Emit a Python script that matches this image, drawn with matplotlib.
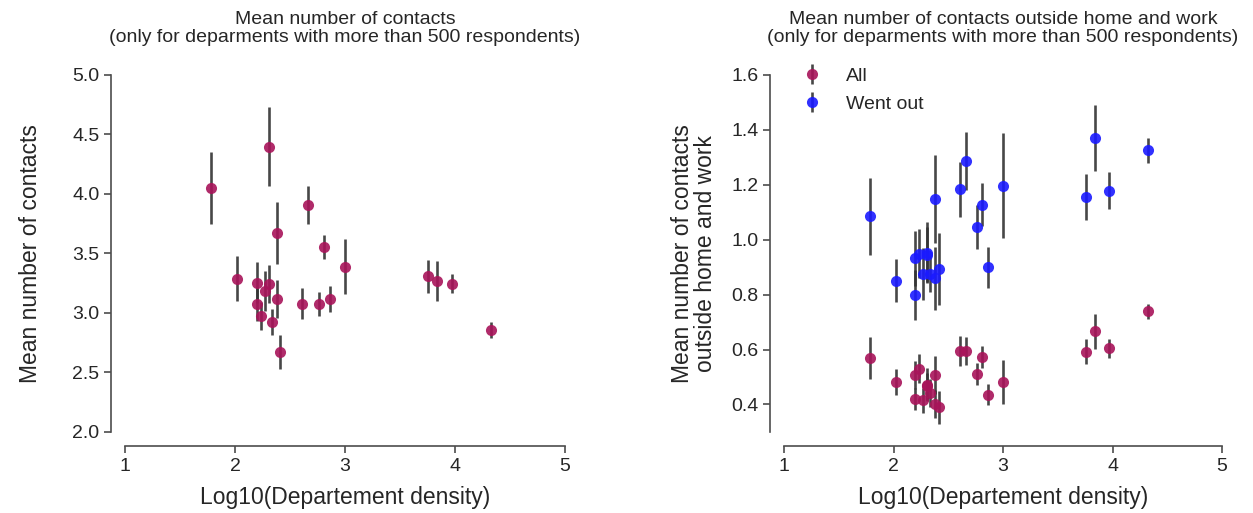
import matplotlib
matplotlib.use("Agg")
import matplotlib.pyplot as plt
import numpy as np

plt.rcParams['font.family'] = ['Liberation Sans', 'DejaVu Sans']
plt.rcParams['text.color'] = '0.15'
plt.rcParams['axes.labelcolor'] = '0.15'
plt.rcParams['xtick.color'] = '0.15'
plt.rcParams['ytick.color'] = '0.15'

# Log10 department density
density = [1.785, 2.02, 2.196, 2.198, 2.233, 2.27, 2.308, 2.31, 2.332, 2.38, 2.383,
           2.412, 2.607, 2.664, 2.76, 2.807, 2.86, 2.997, 3.758, 3.836, 3.97, 4.328]

# Left panel: mean number of contacts
contacts_mean = [4.048, 3.288, 3.255, 3.076, 2.975, 3.185, 4.398, 3.241, 2.922, 3.115, 3.670,
                 2.672, 3.076, 3.908, 3.073, 3.552, 3.118, 3.387, 3.308, 3.269, 3.244, 2.857]
contacts_err = [0.30, 0.19, 0.17, 0.14, 0.12, 0.17, 0.33, 0.16, 0.11, 0.16, 0.26,
                0.14, 0.13, 0.16, 0.10, 0.10, 0.11, 0.23, 0.14, 0.17, 0.08, 0.065]

# Right panel: contacts outside home and work
all_mean = [0.570, 0.481, 0.508, 0.419, 0.530, 0.415, 0.472, 0.466, 0.441, 0.402, 0.508,
            0.390, 0.594, 0.594, 0.511, 0.573, 0.436, 0.483, 0.592, 0.666, 0.604, 0.739]
all_err = [0.077, 0.047, 0.05, 0.04, 0.053, 0.045, 0.06, 0.05, 0.05, 0.05, 0.07,
           0.06, 0.055, 0.05, 0.04, 0.04, 0.037, 0.08, 0.045, 0.063, 0.035, 0.028]
out_mean = [1.085, 0.851, 0.932, 0.798, 0.949, 0.876, 0.953, 0.945, 0.874, 0.859, 1.147,
            0.893, 1.183, 1.286, 1.046, 1.128, 0.900, 1.197, 1.156, 1.371, 1.178, 1.325]
out_err = [0.14, 0.077, 0.10, 0.09, 0.09, 0.095, 0.11, 0.10, 0.065, 0.116, 0.16,
           0.13, 0.10, 0.105, 0.08, 0.077, 0.075, 0.19, 0.083, 0.12, 0.067, 0.047]

series_labels = ['All', 'Went out']
xticks = [1, 2, 3, 4, 5]
title_left = "Mean number of contacts\n(only for deparments with more than 500 respondents)"
title_right = "Mean number of contacts outside home and work\n(only for deparments with more than 500 respondents)"

RED = '#a8145a'
BLUE = '#1a1aff'
ECOL = '0.2'

fig = plt.figure(figsize=(12.53, 5.13), dpi=100)
ax1 = fig.add_axes([0.0998, 0.158, 0.351, 0.696])
ax2 = fig.add_axes([0.6257, 0.158, 0.3496, 0.696])

kw = dict(fmt='o', ms=8, ecolor=ECOL, elinewidth=1.9, capsize=0, alpha=0.9, mew=0)
ax1.errorbar(density, contacts_mean, yerr=contacts_err, color=RED, **kw)
ax2.errorbar(density, all_mean, yerr=all_err, color=RED, label=series_labels[0], **kw)
ax2.errorbar(density, out_mean, yerr=out_err, color=BLUE, label=series_labels[1], **kw)

ax1.set_xlim(1, 5)
ax1.set_ylim(2, 5)
ax1.set_yticks(np.arange(2.0, 5.01, 0.5))
ax1.set_yticklabels([f"{v:.1f}" for v in np.arange(2.0, 5.01, 0.5)])
ax2.set_xlim(1, 5)
ax2.set_ylim(0.3, 1.6)
ax2.set_yticks(np.arange(0.4, 1.61, 0.2))
ax2.set_yticklabels([f"{v:.1f}" for v in np.arange(0.4, 1.61, 0.2)])

for ax in (ax1, ax2):
    ax.set_xticks(xticks)
    ax.set_xticklabels([str(t) for t in xticks])
    for s in ('top', 'right'):
        ax.spines[s].set_visible(False)
    for s in ('left', 'bottom'):
        ax.spines[s].set_position(('outward', 10))
        ax.spines[s].set_color('0.3')
        ax.spines[s].set_linewidth(1.2)
    ax.tick_params(axis='both', labelsize=14, length=5, width=1.2, color='0.3', direction='out')
    ax.set_xlabel('Log10(Departement density)', fontsize=16.5, labelpad=8)

ax1.set_ylabel('Mean number of contacts', fontsize=16.5, labelpad=22)
ax2.set_ylabel('Mean number of contacts\noutside home and work', fontsize=16.5, labelpad=10,
               linespacing=1.0)
ax1.set_title(title_left, fontsize=14, pad=24, linespacing=1.05)
ax2.set_title(title_right, fontsize=14, pad=24, linespacing=1.05)

leg = ax2.legend(loc='upper left', frameon=False, fontsize=14, handletextpad=0.75,
                 bbox_to_anchor=(-0.012, 1.06), borderaxespad=0.3, labelspacing=0.55)

fig.savefig('out.png', dpi=100)
